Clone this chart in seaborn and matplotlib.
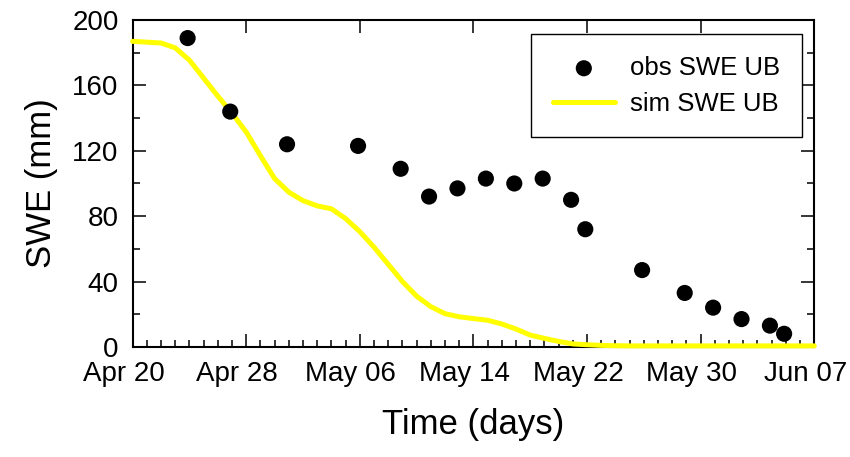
import matplotlib
matplotlib.use("Agg")
import matplotlib.pyplot as plt
import matplotlib.dates as mdates
from matplotlib.ticker import MultipleLocator
from matplotlib.transforms import ScaledTranslation
import seaborn as sns
import pandas as pd

obs_dates = ["2013-04-23 21:00", "2013-04-26 21:00", "2013-04-30 21:00", "2013-05-05 21:00",
             "2013-05-08 21:00", "2013-05-10 21:00", "2013-05-12 21:00", "2013-05-14 21:00",
             "2013-05-16 21:00", "2013-05-18 21:00", "2013-05-20 21:00", "2013-05-21 21:00",
             "2013-05-25 21:00", "2013-05-28 21:00", "2013-05-30 21:00", "2013-06-01 21:00",
             "2013-06-03 21:00", "2013-06-04 21:00"]
obs_swe = [189, 144, 124, 123, 109, 92, 97, 103, 100, 103, 90, 72, 47, 33, 24, 17, 13, 8]

# simulated SWE, daily from Apr 20 to Jun 07
sim_start = "2013-04-20"
sim_swe = [187, 186.5, 186, 183, 175.5, 164.5, 153.5, 143, 131.5, 117,
           103, 94.7, 89.5, 86.3, 84.5, 78.5, 70.5, 61, 50.5, 40,
           31, 24.6, 20.3, 18.4, 17.3, 16.3, 14, 10.9, 7.2, 5.2,
           3.3, 1.8, 1.3, 0.9, 0.7, 0.6, 0.6, 0.6, 0.6, 0.6,
           0.6, 0.6, 0.6, 0.6, 0.6, 0.6, 0.6, 0.6, 0.6]

x_ticks = ["2013-04-20", "2013-04-28", "2013-05-06", "2013-05-14",
           "2013-05-22", "2013-05-30", "2013-06-07"]
y_ticks = [0, 40, 80, 120, 160, 200]

obs = pd.DataFrame({"date": pd.to_datetime(obs_dates), "swe": obs_swe})
sim = pd.DataFrame({"date": pd.date_range(sim_start, periods=len(sim_swe), freq="D"),
                    "swe": sim_swe})

sns.set_style("ticks")
plt.rcParams["font.family"] = ["Liberation Sans", "DejaVu Sans"]
plt.rcParams["text.color"] = "black"
plt.rcParams["axes.labelcolor"] = "black"

fig, ax = plt.subplots(figsize=(8.5, 4.57), dpi=100)
fig.subplots_adjust(left=0.156, right=0.958, bottom=0.241, top=0.956)

sns.scatterplot(data=obs, x="date", y="swe", ax=ax, color="black", s=135,
                edgecolor="none", label="obs SWE UB", zorder=4)
sns.lineplot(data=sim, x="date", y="swe", ax=ax, color="#ffff00", linewidth=3.6,
             label="sim SWE UB", zorder=3, clip_on=False)

ticks = pd.to_datetime(x_ticks)
ax.set_xlim(ticks[0], ticks[-1])
ax.set_ylim(y_ticks[0], y_ticks[-1])
ax.set_xticks(ticks)
ax.xaxis.set_major_formatter(mdates.DateFormatter("%b %d"))
ax.xaxis.set_minor_locator(mdates.DayLocator())
ax.set_yticks(y_ticks)
ax.yaxis.set_minor_locator(MultipleLocator(20))

ax.tick_params(which="both", direction="in", top=True, right=True, width=1.1,
               colors="black")
ax.tick_params(which="major", length=9.5, labelsize=20)
ax.tick_params(which="minor", length=5)
ax.tick_params(axis="x", which="minor", top=False)
ax.tick_params(axis="x", pad=10.5)
ax.tick_params(axis="y", pad=10)
for sp in ax.spines.values():
    sp.set_linewidth(1.5)
    sp.set_color("black")

# date labels sit a little left of their ticks in the original
shift = ScaledTranslation(-9 / 100, 0, fig.dpi_scale_trans)
for lab in ax.get_xticklabels():
    lab.set_transform(lab.get_transform() + shift)

ax.set_xlabel("Time (days)", fontsize=25, labelpad=15)
ax.set_ylabel("SWE (mm)", fontsize=25, labelpad=10)

leg = ax.legend(loc="upper right", bbox_to_anchor=(0.982, 0.957), borderaxespad=0,
                fontsize=18.5, fancybox=False, edgecolor="black", framealpha=1,
                handlelength=2.4, handletextpad=0.6, borderpad=0.85, labelspacing=0.45)
leg.get_frame().set_linewidth(1.0)

fig.savefig("out.png", dpi=100)
